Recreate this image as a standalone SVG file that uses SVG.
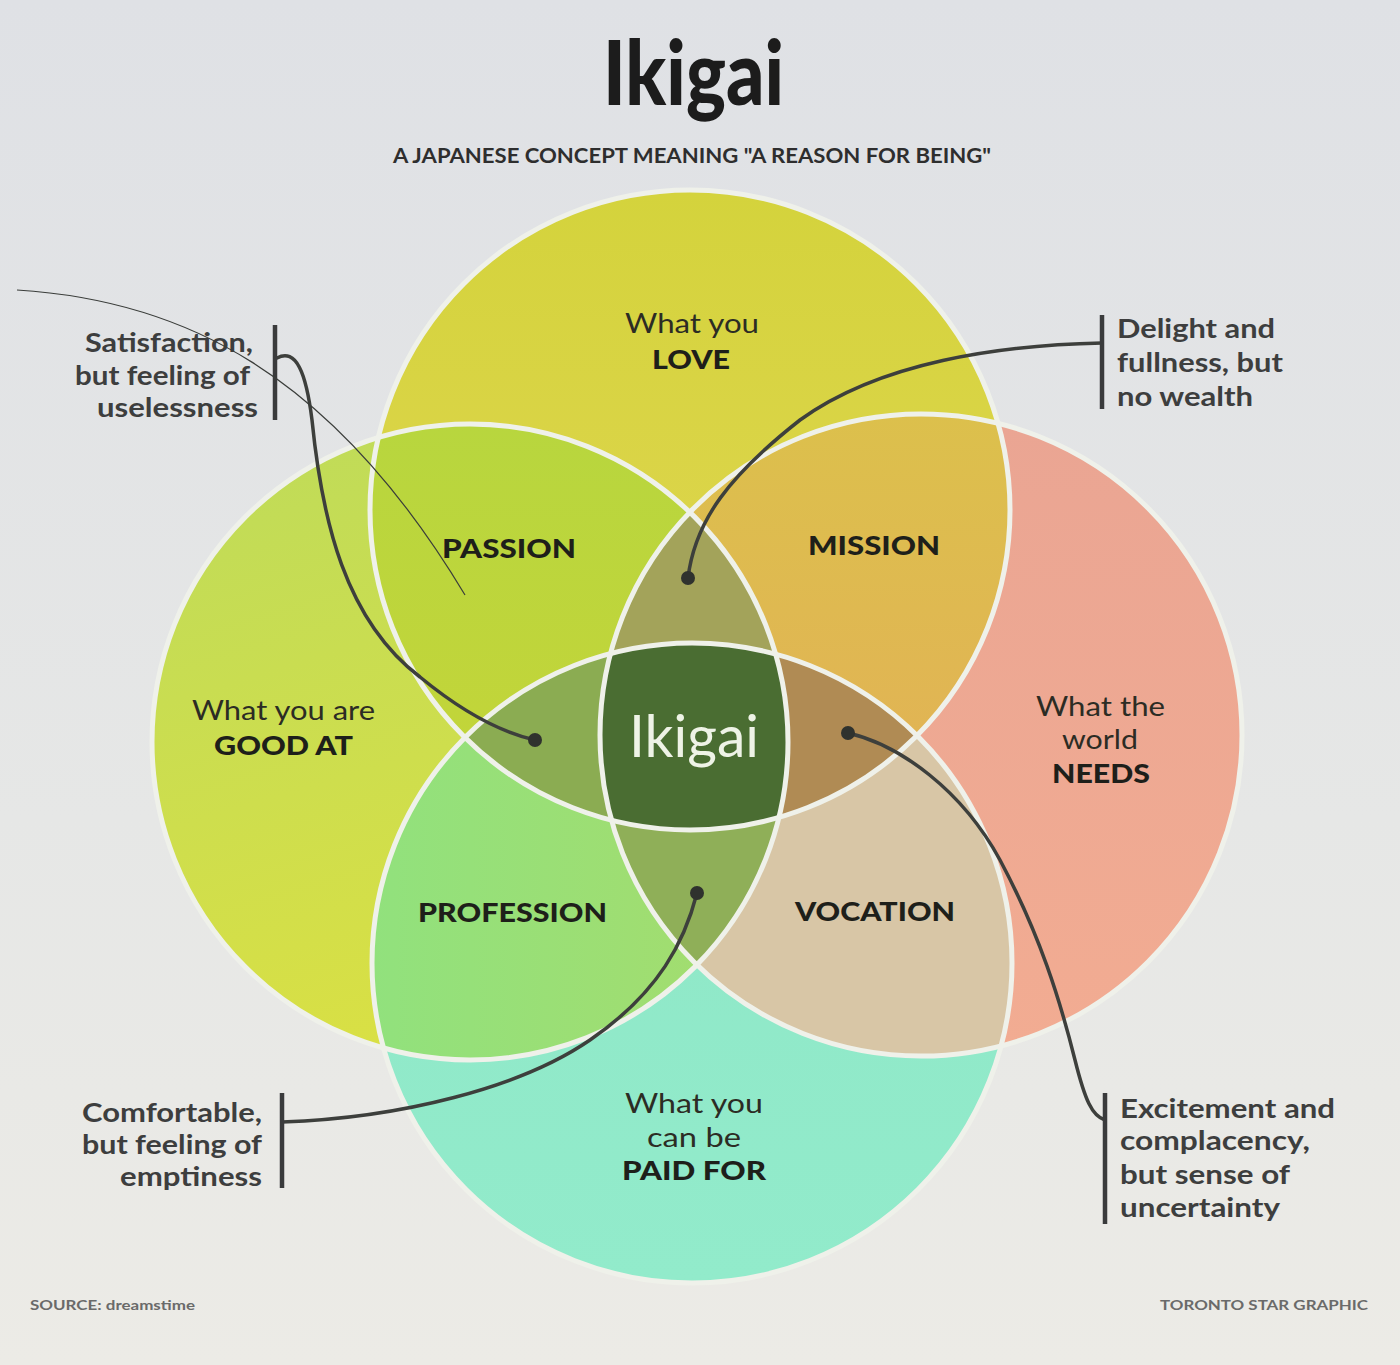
<svg xmlns="http://www.w3.org/2000/svg" width="1400" height="1365" viewBox="0 0 1400 1365">
<defs>
<linearGradient id="bg" x1="0" y1="0" x2="0" y2="1">
<stop offset="0" stop-color="#dfe1e5"/>
<stop offset="0.6" stop-color="#e6e7e6"/>
<stop offset="1" stop-color="#ecebe6"/>
</linearGradient>
<linearGradient id="gT" x1="0" y1="0" x2="0" y2="1">
<stop offset="0" stop-color="#d4d33c"/>
<stop offset="1" stop-color="#e2d654"/>
</linearGradient>
<linearGradient id="gL" x1="0" y1="0" x2="0.3" y2="1">
<stop offset="0" stop-color="#bedb5a"/>
<stop offset="1" stop-color="#d9e044"/>
</linearGradient>
<linearGradient id="gR" x1="0" y1="0" x2="0" y2="1">
<stop offset="0" stop-color="#eaa593"/>
<stop offset="1" stop-color="#f2ac92"/>
</linearGradient>
<linearGradient id="gB" x1="0" y1="0" x2="0" y2="1">
<stop offset="0" stop-color="#8ee6c6"/>
<stop offset="1" stop-color="#92ebcb"/>
</linearGradient>
<linearGradient id="gTL" x1="0" y1="0" x2="0" y2="1">
<stop offset="0" stop-color="#b8d63e"/>
<stop offset="1" stop-color="#ccd435"/>
</linearGradient>
<linearGradient id="gTR" x1="0" y1="0" x2="0" y2="1">
<stop offset="0" stop-color="#dcc04c"/>
<stop offset="1" stop-color="#e6a95c"/>
</linearGradient>
<linearGradient id="gBL" x1="0" y1="0" x2="1" y2="0">
<stop offset="0" stop-color="#86e486"/>
<stop offset="1" stop-color="#a6dc6c"/>
</linearGradient>
<clipPath id="cT"><circle cx="690" cy="510" r="320"/></clipPath>
<clipPath id="cL"><circle cx="470" cy="742" r="318"/></clipPath>
<clipPath id="cR"><circle cx="921" cy="735" r="321"/></clipPath>
<clipPath id="cB"><circle cx="692" cy="963" r="320"/></clipPath>
</defs>
<style>
text { font-family: Lato, "Open Sans", "Liberation Sans", sans-serif; }
.call { font-size: 26px; font-weight: 700; fill: #3d3e3e; }
.lab { font-size: 26px; font-weight: 400; fill: #2c2c24; }
.big { font-size: 27px; font-weight: 900; fill: #1e1f1a; }
.conn { fill: none; stroke: #3d3f3c; stroke-width: 3.5; stroke-linecap: round; }
.bar { stroke: #3a3b3c; stroke-width: 4.5; }
.dot { fill: #2f322e; }
.edge { fill: none; stroke: #eff1ea; stroke-width: 5; }
.foot { font-size: 13px; font-weight: 700; fill: #6a6a6a; }
</style>
<rect width="1400" height="1365" fill="url(#bg)"/>

<g id="title">
<text x="603" y="105" textLength="181" lengthAdjust="spacingAndGlyphs" font-size="90" font-weight="900" fill="#1c1c1c">Ikigai</text>
<text x="393" y="163" textLength="598" lengthAdjust="spacingAndGlyphs" font-size="20" font-weight="700" fill="#2e2e2e">A JAPANESE CONCEPT MEANING "A REASON FOR BEING"</text>
</g>

<g id="venn">
<g id="circle-love"><circle cx="690" cy="510" r="320" fill="url(#gT)"/></g>
<g id="circle-good-at"><circle cx="470" cy="742" r="318" fill="url(#gL)"/></g>
<g id="circle-needs"><circle cx="921" cy="735" r="321" fill="url(#gR)"/></g>
<g id="circle-paid"><circle cx="692" cy="963" r="320" fill="url(#gB)"/></g>
<g id="passion" clip-path="url(#cT)"><circle cx="470" cy="742" r="318" fill="url(#gTL)"/></g>
<g id="mission" clip-path="url(#cT)"><circle cx="921" cy="735" r="321" fill="url(#gTR)"/></g>
<g id="profession" clip-path="url(#cB)"><circle cx="470" cy="742" r="318" fill="url(#gBL)"/></g>
<g id="vocation" clip-path="url(#cB)"><circle cx="921" cy="735" r="321" fill="#d8c6a6"/></g>
<g id="t-l-r" clip-path="url(#cT)"><g clip-path="url(#cR)"><circle cx="470" cy="742" r="318" fill="#a3a35a"/></g></g>
<g id="l-r-b" clip-path="url(#cB)"><g clip-path="url(#cR)"><circle cx="470" cy="742" r="318" fill="#8faf58"/></g></g>
<g id="t-l-b" clip-path="url(#cT)"><g clip-path="url(#cB)"><circle cx="470" cy="742" r="318" fill="#8bac52"/></g></g>
<g id="t-r-b" clip-path="url(#cT)"><g clip-path="url(#cB)"><circle cx="921" cy="735" r="321" fill="#b08b54"/></g></g>
<g id="ikigai-core" clip-path="url(#cT)"><g clip-path="url(#cB)"><g clip-path="url(#cR)"><circle cx="470" cy="742" r="318" fill="#4a6d32"/></g></g></g>
<g id="edges">
<circle class="edge" cx="690" cy="510" r="320"/>
<circle class="edge" cx="470" cy="742" r="318"/>
<circle class="edge" cx="921" cy="735" r="321"/>
<circle class="edge" cx="692" cy="963" r="320"/>
</g>
</g>

<g id="labels">
<text class="lab" x="625" y="333" textLength="134" lengthAdjust="spacingAndGlyphs">What you</text>
<text class="big" x="652" y="369" textLength="78" lengthAdjust="spacingAndGlyphs">LOVE</text>
<text class="big" x="442" y="558" textLength="134" lengthAdjust="spacingAndGlyphs">PASSION</text>
<text class="big" x="808" y="555" textLength="132" lengthAdjust="spacingAndGlyphs">MISSION</text>
<text class="lab" x="192" y="720" textLength="183" lengthAdjust="spacingAndGlyphs">What you are</text>
<text class="big" x="214" y="755" textLength="139" lengthAdjust="spacingAndGlyphs">GOOD AT</text>
<text class="lab" x="1036" y="716" textLength="129" lengthAdjust="spacingAndGlyphs">What the</text>
<text class="lab" x="1062" y="749" textLength="76" lengthAdjust="spacingAndGlyphs">world</text>
<text class="big" x="1052" y="783" textLength="98" lengthAdjust="spacingAndGlyphs">NEEDS</text>
<text x="629" y="757" textLength="130" lengthAdjust="spacingAndGlyphs" font-size="58" font-weight="400" fill="#eef3e6">Ikigai</text>
<text class="big" x="418" y="922" textLength="189" lengthAdjust="spacingAndGlyphs">PROFESSION</text>
<text class="big" x="795" y="921" textLength="160" lengthAdjust="spacingAndGlyphs">VOCATION</text>
<text class="lab" x="625" y="1113" textLength="138" lengthAdjust="spacingAndGlyphs">What you</text>
<text class="lab" x="647" y="1147" textLength="94" lengthAdjust="spacingAndGlyphs">can be</text>
<text class="big" x="622" y="1180" textLength="144" lengthAdjust="spacingAndGlyphs">PAID FOR</text>
</g>

<g id="connectors">
<path class="conn" d="M277,358 C296,348 306,372 312,420 C322,520 345,620 420,677 C460,710 500,732 535,740"/>
<path class="conn" d="M1102,343 C1000,345 880,362 800,420 C730,475 695,520 688,578"/>
<path class="conn" d="M282,1122 C400,1118 520,1088 590,1040 C660,992 685,940 697,893"/>
<path class="conn" d="M848,733 C900,745 962,790 1000,860 C1040,935 1060,1000 1075,1060 C1085,1100 1092,1116 1105,1120"/>
<circle class="dot" cx="535" cy="740" r="7"/>
<circle class="dot" cx="688" cy="578" r="7"/>
<circle class="dot" cx="697" cy="893" r="7"/>
<circle class="dot" cx="848" cy="733" r="7"/>
</g>

<g id="callout-satisfaction">
<line class="bar" x1="275" y1="325" x2="275" y2="420"/>
<text class="call" x="85" y="352" textLength="168" lengthAdjust="spacingAndGlyphs">Satisfaction,</text>
<text class="call" x="75" y="385" textLength="175" lengthAdjust="spacingAndGlyphs">but feeling of</text>
<text class="call" x="97" y="417" textLength="161" lengthAdjust="spacingAndGlyphs">uselessness</text>
</g>
<g id="callout-delight">
<line class="bar" x1="1102" y1="315" x2="1102" y2="409"/>
<text class="call" x="1117" y="338" textLength="158" lengthAdjust="spacingAndGlyphs">Delight and</text>
<text class="call" x="1117" y="372" textLength="166" lengthAdjust="spacingAndGlyphs">fullness, but</text>
<text class="call" x="1117" y="406" textLength="136" lengthAdjust="spacingAndGlyphs">no wealth</text>
</g>
<g id="callout-comfortable">
<line class="bar" x1="282" y1="1093" x2="282" y2="1188"/>
<text class="call" x="82" y="1122" textLength="180" lengthAdjust="spacingAndGlyphs">Comfortable,</text>
<text class="call" x="82" y="1154" textLength="180" lengthAdjust="spacingAndGlyphs">but feeling of</text>
<text class="call" x="120" y="1186" textLength="142" lengthAdjust="spacingAndGlyphs">emptiness</text>
</g>
<g id="callout-excitement">
<line class="bar" x1="1105" y1="1093" x2="1105" y2="1224"/>
<text class="call" x="1120" y="1118" textLength="215" lengthAdjust="spacingAndGlyphs">Excitement and</text>
<text class="call" x="1120" y="1150" textLength="190" lengthAdjust="spacingAndGlyphs">complacency,</text>
<text class="call" x="1120" y="1184" textLength="170" lengthAdjust="spacingAndGlyphs">but sense of</text>
<text class="call" x="1120" y="1217" textLength="160" lengthAdjust="spacingAndGlyphs">uncertainty</text>
</g>

<g id="footer">
<text class="foot" x="30" y="1310" textLength="165" lengthAdjust="spacingAndGlyphs">SOURCE: dreamstime</text>
<text class="foot" x="1160" y="1310" textLength="208" lengthAdjust="spacingAndGlyphs">TORONTO STAR GRAPHIC</text>
</g>

<g id="stray-line">
<path d="M17,290 C180,300 330,370 465,595" fill="none" stroke="#3a3d3a" stroke-width="1.2"/>
</g>
</svg>
